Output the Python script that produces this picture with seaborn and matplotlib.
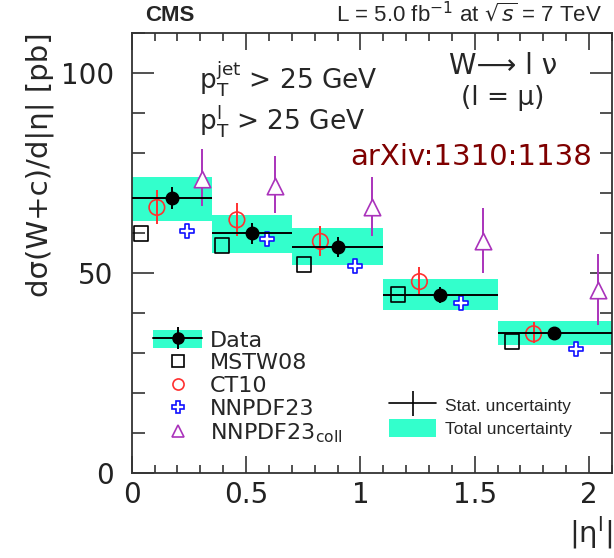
import matplotlib
matplotlib.use('Agg')
import matplotlib.pyplot as plt
import numpy as np
import pandas as pd
import seaborn as sns
from matplotlib.lines import Line2D
from matplotlib.patches import Patch
from matplotlib.legend_handler import HandlerTuple
from matplotlib.ticker import MultipleLocator

sns.set_style('ticks')
plt.rcParams['font.family'] = ['DejaVu Sans']

# bins in |eta^l|
bin_lo = [0.0, 0.35, 0.7, 1.1, 1.6]
bin_hi = [0.35, 0.7, 1.1, 1.6, 2.1]

# data
data_x = [0.176, 0.527, 0.90, 1.35, 1.847]
data_y = [68.6, 59.8, 56.5, 44.5, 34.9]
data_stat = [2.8, 2.6, 2.5, 2.0, 1.5]
tot_lo = [63.0, 54.9, 52.0, 40.75, 31.9]
tot_hi = [73.8, 64.5, 61.2, 48.4, 38.0]

# predictions
mstw_x = [0.042, 0.396, 0.752, 1.163, 1.662]
mstw_y = [59.8, 56.75, 52.0, 44.5, 32.75]

ct10_x = [0.11, 0.46, 0.825, 1.258, 1.757]
ct10_y = [66.3, 63.2, 57.8, 47.75, 34.7]
ct10_lo = [62.2, 59.1, 54.1, 44.5, 32.4]
ct10_hi = [70.75, 67.3, 61.7, 51.3, 37.75]

nnpdf_x = [0.24, 0.592, 0.975, 1.442, 1.944]
nnpdf_y = [60.5, 58.4, 51.6, 42.4, 30.9]

coll_x = [0.307, 0.626, 1.05, 1.537, 2.04]
coll_y = [73.4, 71.75, 66.3, 58.0, 45.7]
coll_lo = [66.6, 64.8, 59.1, 49.9, 36.9]
coll_hi = [80.9, 79.1, 73.8, 66.1, 54.7]

cyan = '#33ffcc'
red = '#ff3030'
blue = '#1010ff'
purple = '#aa33bb'

fig = plt.figure(figsize=(6.14, 5.58), dpi=100)
ax = fig.add_axes([0.2145, 0.1532, 0.7822, 0.7882])

# total uncertainty boxes
lo = np.array(bin_lo)
hi = np.array(bin_hi)
ax.bar(lo, np.array(tot_hi) - np.array(tot_lo), width=hi - lo, bottom=tot_lo,
       align='edge', color=cyan, linewidth=0, zorder=1)

# data with stat errors and bin-width lines
dx = np.array(data_x)
ax.errorbar(dx, data_y, yerr=data_stat, xerr=[dx - lo, hi - dx], fmt='o',
            color='black', ms=9, elinewidth=1.4, capsize=0, zorder=5)

# model predictions
c10 = np.array(ct10_y)
ax.errorbar(ct10_x, ct10_y, yerr=[c10 - np.array(ct10_lo), np.array(ct10_hi) - c10],
            fmt='none', ecolor=red, elinewidth=1.4, zorder=3)
cl = np.array(coll_y)
ax.errorbar(coll_x, coll_y, yerr=[cl - np.array(coll_lo), np.array(coll_hi) - cl],
            fmt='none', ecolor=purple, elinewidth=1.4, zorder=3)

df_mstw = pd.DataFrame({'x': mstw_x, 'y': mstw_y})
df_ct10 = pd.DataFrame({'x': ct10_x, 'y': ct10_y})
df_nnpdf = pd.DataFrame({'x': nnpdf_x, 'y': nnpdf_y})
df_coll = pd.DataFrame({'x': coll_x, 'y': coll_y})

sns.scatterplot(data=df_mstw, x='x', y='y', marker='s', s=105, color='black',
                facecolor='none', edgecolor='black', linewidth=1.2, ax=ax, zorder=4)
sns.scatterplot(data=df_ct10, x='x', y='y', marker='o', s=125, color=red,
                facecolor='none', edgecolor=red, linewidth=1.2, ax=ax, zorder=4)
sns.scatterplot(data=df_nnpdf, x='x', y='y', marker='P', s=105, color=blue,
                facecolor='white', edgecolor=blue, linewidth=1.2, ax=ax, zorder=4)
sns.scatterplot(data=df_coll, x='x', y='y', marker='^', s=140, color=purple,
                facecolor='white', edgecolor=purple, linewidth=1.2, ax=ax, zorder=4)

ax.set_xlim(0, 2.1)
ax.set_ylim(0, 110)
ax.xaxis.set_major_locator(MultipleLocator(0.5))
ax.xaxis.set_minor_locator(MultipleLocator(0.1))
ax.yaxis.set_major_locator(MultipleLocator(50))
ax.yaxis.set_minor_locator(MultipleLocator(10))
ax.xaxis.set_major_formatter(matplotlib.ticker.FuncFormatter(lambda v, p: f'{v:g}'))
ax.tick_params(which='both', direction='in', top=True, right=True, labelsize=20,
               colors='#222222', width=1.1)
ax.tick_params(axis='x', which='major', length=12, pad=6)
ax.tick_params(axis='x', which='minor', length=6)
ax.tick_params(axis='y', which='major', length=16, pad=13)
ax.tick_params(axis='y', which='minor', length=9)
for sp in ax.spines.values():
    sp.set_linewidth(1.3)
    sp.set_color('#333333')

ax.set_xlabel('|η$^{\\mathrm{l}}$|', fontsize=21, loc='right')
ax.set_ylabel('dσ(W+c)/d|η| [pb]', fontsize=21, loc='top', labelpad=5)

# annotations
fig.text(0.236, 0.962, 'CMS', fontsize=16, fontweight='bold', family='Liberation Sans')
fig.text(0.981, 0.962, r'L = 5.0 fb$^{-1}$ at $\sqrt{s}$ = 7 TeV', fontsize=16,
         ha='right', family='Liberation Sans')
ax.text(0.14, 0.87, r'$\mathrm{p}_{\mathrm{T}}^{\mathrm{jet}}$ > 25 GeV', fontsize=19,
        transform=ax.transAxes)
ax.text(0.14, 0.78, r'$\mathrm{p}_{\mathrm{T}}^{\mathrm{l}}$ > 25 GeV', fontsize=19,
        transform=ax.transAxes)
ax.text(0.773, 0.905, 'W⟶ l ν', fontsize=20, ha='center', transform=ax.transAxes)
ax.text(0.773, 0.835, '(l = μ)', fontsize=19, ha='center', transform=ax.transAxes)
ax.text(0.4545, 0.70, 'arXiv:1310:1138', fontsize=21, color='#7f0000',
        transform=ax.transAxes)

# legends
tup = HandlerTuple(ndivide=1, pad=0)
h_data = (Patch(color=cyan, linewidth=0),
          Line2D([], [], color='black', lw=1.4, marker='o', ms=8),
          Line2D([], [], color='black', ls='none', marker='|', ms=16, mew=1.4))
handles = [h_data,
           Line2D([], [], ls='none', marker='s', ms=8, mfc='none', mec='black', mew=1.2),
           Line2D([], [], ls='none', marker='o', ms=8, mfc='none', mec=red, mew=1.2),
           Line2D([], [], ls='none', marker='P', ms=9, mfc='none', mec=blue, mew=1.2),
           Line2D([], [], ls='none', marker='^', ms=8, mfc='none', mec=purple, mew=1.2)]
labels = ['Data', 'MSTW08', 'CT10', 'NNPDF23', r'NNPDF23$_{\mathrm{coll}}$']
leg1 = ax.legend(handles, labels, loc='upper left', bbox_to_anchor=(0.045, 0.324),
                 frameon=False, fontsize=16, handlelength=2.2, handleheight=0.85,
                 handletextpad=0.35, labelspacing=0.1, borderpad=0, borderaxespad=0,
                 handler_map={tuple: tup})
ax.add_artist(leg1)

h_stat = (Line2D([], [], color='black', lw=1.2),
          Line2D([], [], color='black', ls='none', marker='|', ms=18, mew=1.2))
h_tot = Patch(color=cyan, linewidth=0)
ax.legend([h_stat, h_tot], ['Stat. uncertainty', 'Total uncertainty'],
          loc='upper left', bbox_to_anchor=(0.535, 0.174), frameon=False,
          prop={'family': 'Liberation Sans', 'size': 12.5}, handlelength=2.75,
          handleheight=1.2, handletextpad=0.5, labelspacing=0.3, borderpad=0,
          borderaxespad=0, handler_map={tuple: tup})

fig.savefig('out.png', dpi=100)
